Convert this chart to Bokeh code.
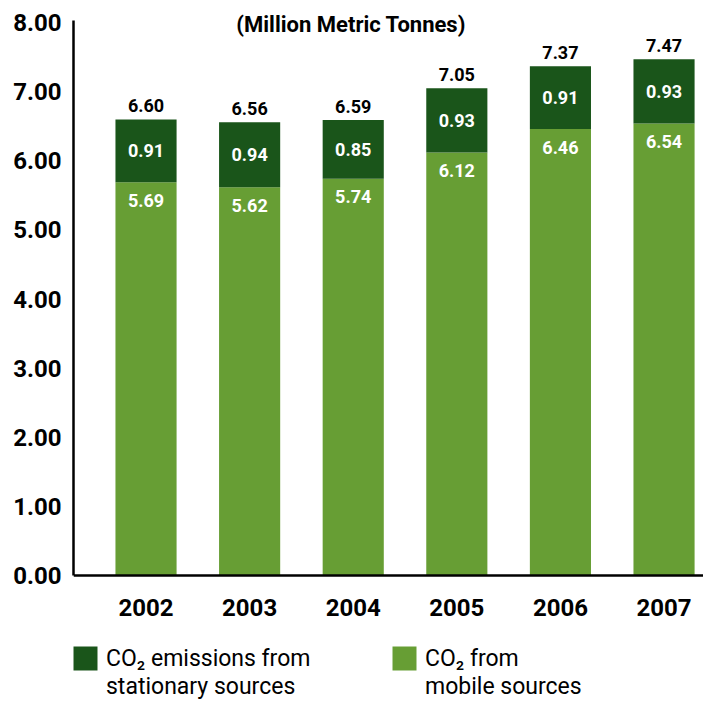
from bokeh.plotting import figure
from bokeh.models import (ColumnDataSource, FixedTicker, NumeralTickFormatter, Range1d,
                          Legend, LegendItem, Label)
from bokeh.core.properties import value
from bokeh.embed import file_html
from bokeh.resources import INLINE

years = [2002, 2003, 2004, 2005, 2006, 2007]
mobile = [5.69, 5.62, 5.74, 6.12, 6.46, 6.54]
stationary = [0.91, 0.94, 0.85, 0.93, 0.91, 0.93]
totals = [6.60, 6.56, 6.59, 7.05, 7.37, 7.47]
y_ticks = [0, 1, 2, 3, 4, 5, 6, 7, 8]
legend_line1 = ["CO\u2082 emissions from", "CO\u2082 from"]
legend_line2 = ["stationary sources", "mobile sources"]
title_text = "(Million Metric Tonnes)"

DARK = "#1a551a"
LIGHT = "#679e34"
FONT = "Roboto"

top = [m + s for m, s in zip(mobile, stationary)]
src = ColumnDataSource(dict(
    x=years, mobile=mobile, stationary=stationary, top=top,
    mid=[m + s / 2 for m, s in zip(mobile, stationary)],
    total_lbl=[f"{t:.2f}" for t in totals],
    mob_lbl=[f"{m:.2f}" for m in mobile],
    sta_lbl=[f"{s:.2f}" for s in stationary],
))

p = figure(width=703, height=701, output_backend="svg", toolbar_location=None,
           x_range=Range1d(2001.300, 2007.381), y_range=Range1d(-1.823, 8.147),
           min_border_left=73, min_border_top=12, min_border_right=0, min_border_bottom=0)
p.outline_line_color = None
p.grid.visible = False

r_mob = p.vbar(x="x", bottom=0, top="mobile", width=0.59, fill_color=LIGHT,
               line_color=None, source=src)
r_sta = p.vbar(x="x", bottom="mobile", top="top", width=0.59, fill_color=DARK,
               line_color=None, source=src)

p.text(x="x", y="top", text="total_lbl", text_align="center", text_baseline="bottom",
       y_offset=-7, text_font=value(FONT), text_font_style="bold",
       text_font_size="18px", text_color="black", source=src)
p.text(x="x", y="mid", text="sta_lbl", text_align="center", text_baseline="middle",
       text_font=value(FONT), text_font_style="bold",
       text_font_size="18px", text_color="white", source=src)
p.text(x="x", y="mobile", text="mob_lbl", text_align="center", text_baseline="middle",
       y_offset=18, text_font=value(FONT), text_font_style="bold",
       text_font_size="18px", text_color="white", source=src)

for ax in (p.xaxis[0], p.yaxis[0]):
    ax.axis_line_color = "black"
    ax.axis_line_width = 2.5
    ax.major_tick_line_color = None
    ax.minor_tick_line_color = None
    ax.major_label_text_font = FONT
    ax.major_label_text_font_style = "bold"
    ax.major_label_text_font_size = "24px"
    ax.major_label_text_color = "black"

p.yaxis.ticker = FixedTicker(ticks=y_ticks)
p.yaxis.formatter = NumeralTickFormatter(format="0.00")
p.yaxis.major_label_standoff = 6
p.yaxis.bounds = (0, 8.03)
p.xaxis.ticker = FixedTicker(ticks=years)
p.xaxis.major_label_standoff = 17
p.xaxis.fixed_location = 0

p.add_layout(Label(x=2003.98, y=7.97, text=title_text, text_align="center",
                   text_baseline="middle", text_font=FONT, text_font_style="bold",
                   text_font_size="22px", text_color="black"))


def make_legend(labels, glyph_w, glyph_h, standoff, loc):
    lg = Legend(items=[LegendItem(label=labels[0], renderers=[r_sta]),
                       LegendItem(label=labels[1], renderers=[r_mob])],
                orientation="horizontal", location=loc)
    lg.glyph_width = glyph_w
    lg.glyph_height = glyph_h
    lg.label_standoff = standoff
    lg.label_width = 260
    lg.spacing = 23
    lg.padding = 0
    lg.margin = 0
    lg.border_line_color = None
    lg.background_fill_alpha = 0
    lg.label_text_font = FONT
    lg.label_text_font_size = "23px"
    lg.label_text_color = "black"
    return lg


p.add_layout(make_legend(legend_line1, 30, 30, 6, (-3, 28)), "center")
p.add_layout(make_legend(legend_line2, 0, 26, 36, (-3, 1)), "center")

open("out.html", "w").write(file_html(p, INLINE))
